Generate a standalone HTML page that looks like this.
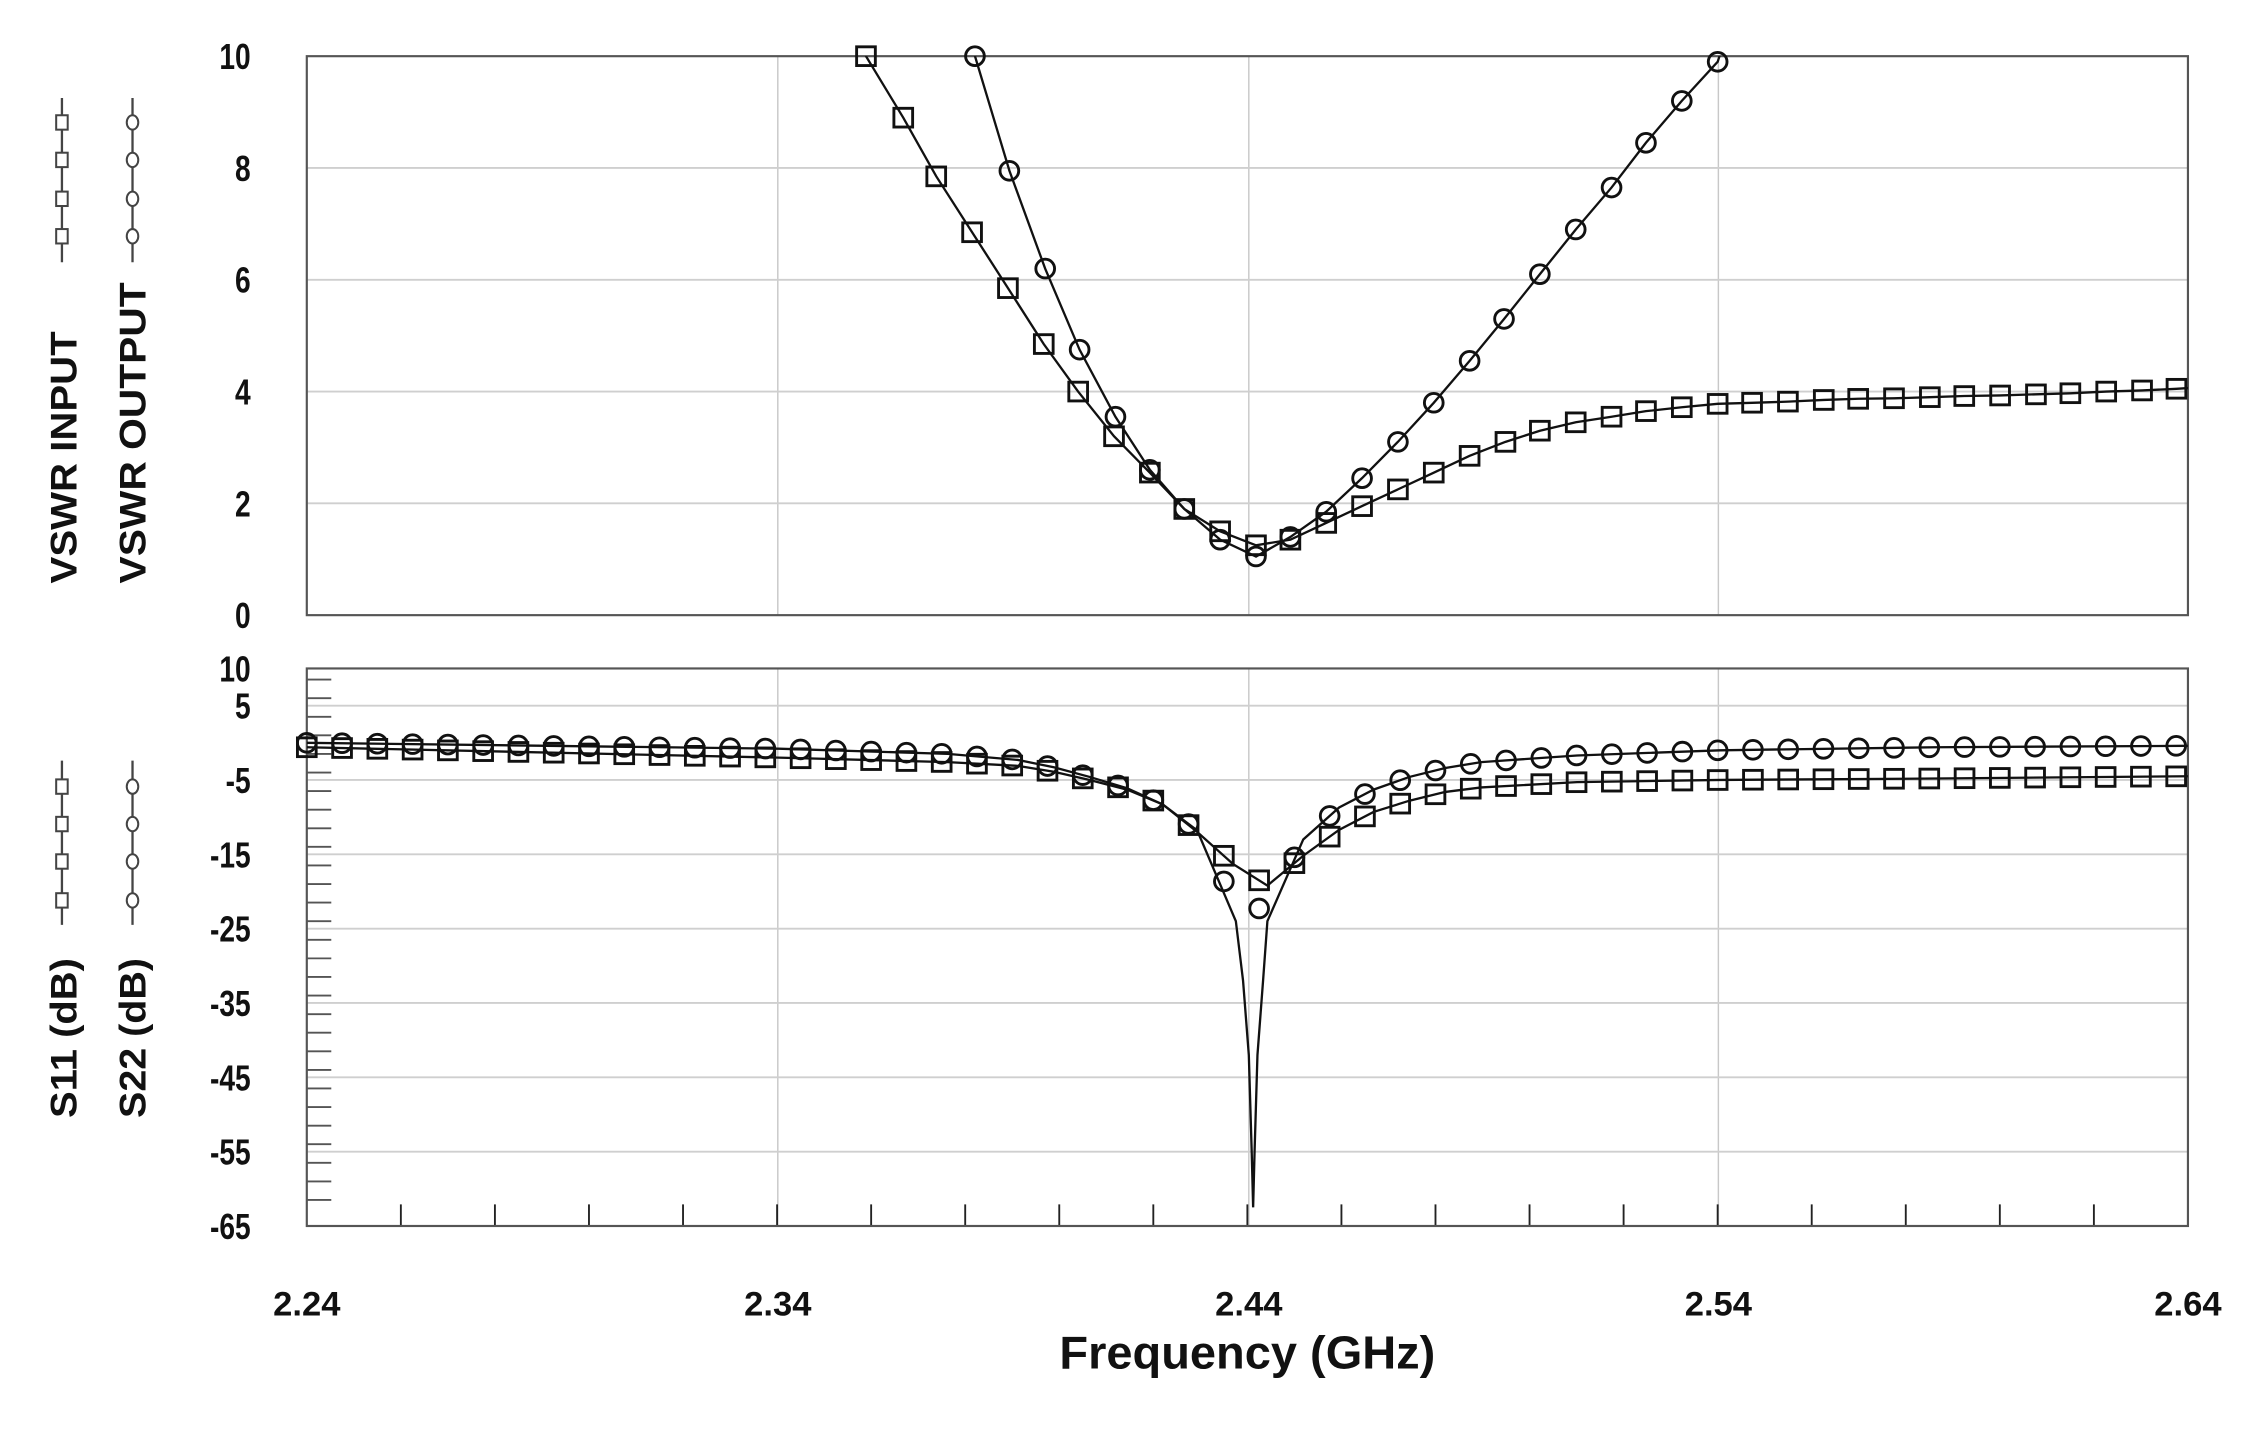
<!DOCTYPE html>
<html><head><meta charset="utf-8"><style>
html,body{margin:0;padding:0;background:#fff}
svg{display:block}
text{font-family:"Liberation Sans",sans-serif;font-weight:bold;fill:#111}
</style></head><body>
<svg id="s" width="2247" height="1432" viewBox="0 0 1560 994" preserveAspectRatio="none" xmlns="http://www.w3.org/2000/svg">
<defs>
<clipPath id="ct"><rect x="213" y="39" width="1306" height="388"/></clipPath>
<clipPath id="cb"><rect x="213" y="464" width="1306" height="387"/></clipPath>
</defs>
<g id="g"></g>
</svg>
<script>
var L=213,R=1519,T1=39,B1=427,T2=464,B2=851;
function X(x){return L+(x-214)*326.5/328;}
function Y1(v){return B1-v*38.8;}
function Y2(d){return T2+(10-d)*5.16;}
var h='';
[540,867,1193].forEach(function(x){h+='<line x1="'+x+'" y1="'+T1+'" x2="'+x+'" y2="'+B1+'" stroke="#c8c8c8" stroke-width="1"/>';h+='<line x1="'+x+'" y1="'+T2+'" x2="'+x+'" y2="'+B2+'" stroke="#c8c8c8" stroke-width="1"/>';});
[2,4,6,8].forEach(function(v){h+='<line x1="'+L+'" y1="'+Y1(v)+'" x2="'+R+'" y2="'+Y1(v)+'" stroke="#cfcfcf" stroke-width="1.3"/>';});
[5,-5,-15,-25,-35,-45,-55].forEach(function(v){h+='<line x1="'+L+'" y1="'+Y2(v)+'" x2="'+R+'" y2="'+Y2(v)+'" stroke="#cfcfcf" stroke-width="1.3"/>';});
for(var d=8.5;d>-64;d-=2.5){h+='<line x1="'+L+'" y1="'+Y2(d)+'" x2="'+(L+17)+'" y2="'+Y2(d)+'" stroke="#555" stroke-width="1.3"/>';}
for(var i=1;i<20;i++){var x=L+i*326.5/5;h+='<line x1="'+x+'" y1="'+(B2-15)+'" x2="'+x+'" y2="'+B2+'" stroke="#222" stroke-width="1.3"/>';}
h+='<rect x="'+L+'" y="'+T1+'" width="'+(R-L)+'" height="'+(B1-T1)+'" fill="none" stroke="#555" stroke-width="1.5"/>';
h+='<rect x="'+L+'" y="'+T2+'" width="'+(R-L)+'" height="'+(B2-T2)+'" fill="none" stroke="#555" stroke-width="1.5"/>';
function yl(v,y){return '<text transform="translate(174,'+(y+9)+') scale(0.85,1.1)" font-size="23" text-anchor="end">'+v+'</text>';}
[10,8,6,4,2,0].forEach(function(v){h+=yl(v,Y1(v));});
[10,5,-5,-15,-25,-35,-45,-55,-65].forEach(function(v){h+=yl(v,Y2(v));});
[['2.24',213],['2.34',540],['2.44',867],['2.54',1193],['2.64',1519]].forEach(function(a){h+='<text x="'+a[1]+'" y="913" font-size="24" text-anchor="middle">'+a[0]+'</text>';});
h+='<text x="866" y="950" font-size="32" text-anchor="middle" textLength="261" lengthAdjust="spacingAndGlyphs">Frequency (GHz)</text>';
function vt(x,yb,len,s){return '<text transform="translate('+x+','+yb+') rotate(-90)" font-size="26" textLength="'+len+'" lengthAdjust="spacingAndGlyphs">'+s+'</text>';}
h+=vt(53,405,175,'VSWR INPUT')+vt(101,405,209,'VSWR OUTPUT')+vt(53,776,111,'S11 (dB)')+vt(101,776,111,'S22 (dB)');
function leg(x,y1,y2,ms,sq){var s='<line x1="'+x+'" y1="'+y1+'" x2="'+x+'" y2="'+y2+'" stroke="#444" stroke-width="1.6"/>';ms.forEach(function(m){s+=sq?'<rect x="'+(x-4)+'" y="'+(m-5)+'" width="8" height="10" fill="#fff" stroke="#444" stroke-width="1.4"/>':'<ellipse cx="'+x+'" cy="'+m+'" rx="4" ry="5" fill="#fff" stroke="#444" stroke-width="1.4"/>';});return s;}
h+=leg(43,68,182,[85,111,138,164],1)+leg(92,68,182,[85,111,138,164],0)+leg(43,528,642,[546,572,598,625],1)+leg(92,528,642,[546,572,598,625],0);
var sq1=[[598,10.5],[604,10],[630,8.9],[653,7.85],[678,6.85],[703,5.85],[728,4.85],[752,4.0],[777,3.2],[802,2.55],[826,1.9],[851,1.5],[876,1.25],[900,1.35],[925,1.65],[950,1.95],[975,2.25],[1000,2.55],[1025,2.85],[1050,3.1],[1074,3.3],[1099,3.45],[1124,3.55],[1148,3.65],[1173,3.72],[1198,3.78],[1222,3.8],[1247,3.82],[1272,3.85],[1296,3.87],[1321,3.88],[1346,3.9],[1370,3.92],[1395,3.93],[1420,3.95],[1444,3.97],[1469,4.0],[1494,4.02],[1518,4.05],[1530,4.07]];
var ci1=[[673,11],[680,10],[704,7.95],[729,6.2],[753,4.75],[778,3.55],[802,2.6],[826,1.9],[851,1.35],[876,1.05],[900,1.4],[925,1.85],[950,2.45],[975,3.1],[1000,3.8],[1025,4.55],[1049,5.3],[1074,6.1],[1099,6.9],[1124,7.65],[1148,8.45],[1173,9.2],[1198,9.9],[1203,10.3]];
function sqm(x,y){return '<rect x="'+(x-6.5)+'" y="'+(y-6.5)+'" width="13" height="13" fill="none" stroke="#111" stroke-width="2"/>';}
function cim(x,y){return '<circle cx="'+x+'" cy="'+y+'" r="6.5" fill="none" stroke="#111" stroke-width="2"/>';}
function poly(p,fy,clip){return '<polyline clip-path="url(#'+clip+')" points="'+p.map(function(a){return X(a[0]).toFixed(1)+','+fy(a[1]).toFixed(1);}).join(' ')+'" fill="none" stroke="#111" stroke-width="1.6"/>';}
h+=poly(sq1,Y1,'ct')+poly(ci1,Y1,'ct');
sq1.forEach(function(a){if(a[1]<=10.05&&a[0]<=1518)h+=sqm(X(a[0]),Y1(a[1]));});
ci1.forEach(function(a){if(a[1]<=10.05)h+=cim(X(a[0]),Y1(a[1]));});
var s11=[[214,-0.6],[543,-2],[661,-2.6],[710,-3.1],[735,-3.9],[760,-5],[786,-6.3],[811,-8.3],[835,-12],[860,-16.3],[884,-19.2],[909,-15.2],[934,-11.7],[958,-9.3],[983,-7.8],[1008,-6.6],[1033,-6.0],[1100,-5.3],[1200,-5.0],[1350,-4.8],[1526,-4.5]];
var s22=[[214,0],[543,-0.8],[661,-1.5],[710,-2.3],[735,-3.3],[760,-4.6],[786,-6.1],[811,-8.3],[835,-11.8],[860,-21],[884,-22.7],[909,-13],[934,-8.7],[958,-6.3],[983,-4.6],[1008,-3.4],[1033,-2.6],[1100,-1.7],[1200,-1.0],[1350,-0.6],[1526,-0.4]];
function interp(a,x){for(var i=0;i<a.length-1;i++){if(x>=a[i][0]&&x<=a[i+1][0]){var t=(x-a[i][0])/(a[i+1][0]-a[i][0]);return a[i][1]+t*(a[i+1][1]-a[i][1]);}}return a[a.length-1][1];}
var s22l=s22.slice(0,9).concat([[862,-24],[867,-32],[871,-42],[873,-55],[874,-62.5],[875,-55],[877,-42],[881,-32],[884,-24]]).concat(s22.slice(11));
h+=poly(s11,Y2,'cb')+poly(s22l,Y2,'cb');
for(var k=0;k<54;k++){var x=214+24.6*k;h+=sqm(X(x),Y2(interp(s11,x)));h+=cim(X(x),Y2(interp(s22,x)));}
document.getElementById('g').innerHTML=h;
</script>
</body></html>
